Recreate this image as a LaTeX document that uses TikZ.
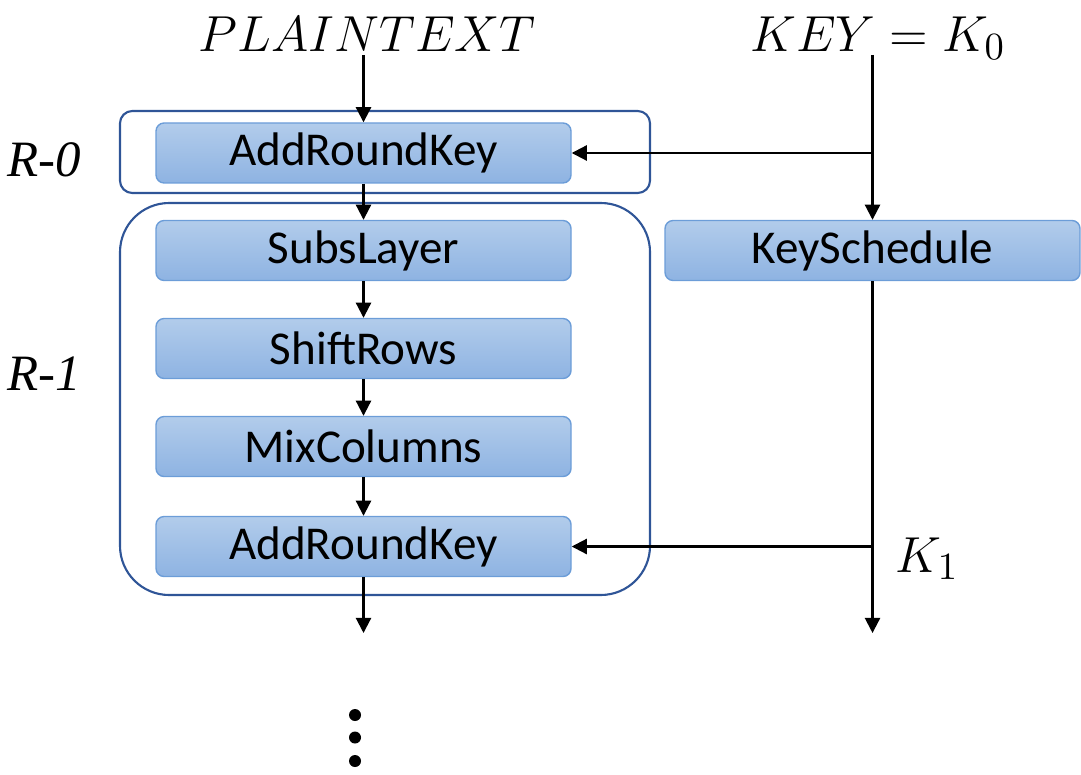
\documentclass[tikz,border=0pt]{standalone}
\usepackage[no-math]{fontspec}
\setmainfont{Carlito}
\newfontfamily\labelfont{Liberation Serif}
\usetikzlibrary{arrows.meta}

\definecolor{boxtop}{HTML}{B2CCEB}
\definecolor{boxbot}{HTML}{8EB3E2}
\definecolor{boxline}{HTML}{6C9DD8}
\definecolor{frameline}{HTML}{2F5597}

\begin{document}
\begin{tikzpicture}[
    box/.style={rectangle, draw=boxline, line width=0.4pt, rounded corners=2.3pt,
                top color=boxtop, bottom color=boxbot,
                minimum width=4.15cm, minimum height=0.6cm, inner sep=0pt,
                font=\fontsize{13.4}{15}\selectfont},
    frame/.style={draw=frameline, line width=0.6pt},
    arrow/.style={-{Triangle[length=4.3pt, width=4.3pt]}, line width=0.6pt},
    mathlbl/.style={inner sep=0pt, font=\fontsize{15.6}{18}\selectfont},
    roundlbl/.style={inner sep=0pt, font=\labelfont\itshape\fontsize{14.5}{16}\selectfont},
  ]
  \useasboundingbox (0,0) rectangle (10.81,-7.74);

  % round frames
  \draw[frame, rounded corners=3.5pt] (1.2,-1.11) rectangle (6.5,-1.93);
  \draw[frame, rounded corners=14pt]  (1.2,-2.03) rectangle (6.5,-5.95);

  % round operations
  \node[box] (ark0)  at (3.635,-1.53)  {AddRoundKey};
  \node[box] (subs)  at (3.635,-2.505) {SubsLayer};
  \node[box] (shift) at (3.635,-3.485) {ShiftRows};
  \node[box] (mix)   at (3.635,-4.465) {MixColumns};
  \node[box] (ark1)  at (3.635,-5.465) {AddRoundKey};
  \node[box] (ks)    at (8.725,-2.505) {KeySchedule};

  % inputs and labels
  \node[mathlbl, anchor=base] (plain) at (3.675,-0.52) {$PLAINTEXT$};
  \node[mathlbl, anchor=base] (key)   at (8.78,-0.52)  {$KEY=K_0$};
  \node[mathlbl, anchor=base west] (k1) at (8.95,-5.72) {$K_1$};
  \node[roundlbl, anchor=base west] (r0) at (0.07,-1.77) {R-0};
  \node[roundlbl, anchor=base west] (r1) at (0.07,-3.9)  {R-1};

  \coordinate (pin)  at (3.635,-0.55);
  \coordinate (kin)  at (8.725,-0.55);
  \coordinate (out)  at (3.635,-6.33);
  \coordinate (kout) at (8.725,-6.33);

  % data path
  \draw[arrow] (pin)   -- (ark0.north);
  \draw[arrow] (ark0)  -- (subs);
  \draw[arrow] (subs)  -- (shift);
  \draw[arrow] (shift) -- (mix);
  \draw[arrow] (mix)   -- (ark1);
  \draw[arrow] (ark1)  -- (out);

  % key path
  \draw[arrow] (kin) -- (ks.north);
  \draw[arrow] (ks.north |- ark0.east) -- (ark0.east);
  \draw[arrow] (ks.south) -- (kout);
  \draw[arrow] (ks.south |- ark1.east) -- (ark1.east);

  % more rounds follow
  \foreach \y in {-7.15,-7.375,-7.61}
    \fill (3.55,\y) circle (0.06);
\end{tikzpicture}
\end{document}
